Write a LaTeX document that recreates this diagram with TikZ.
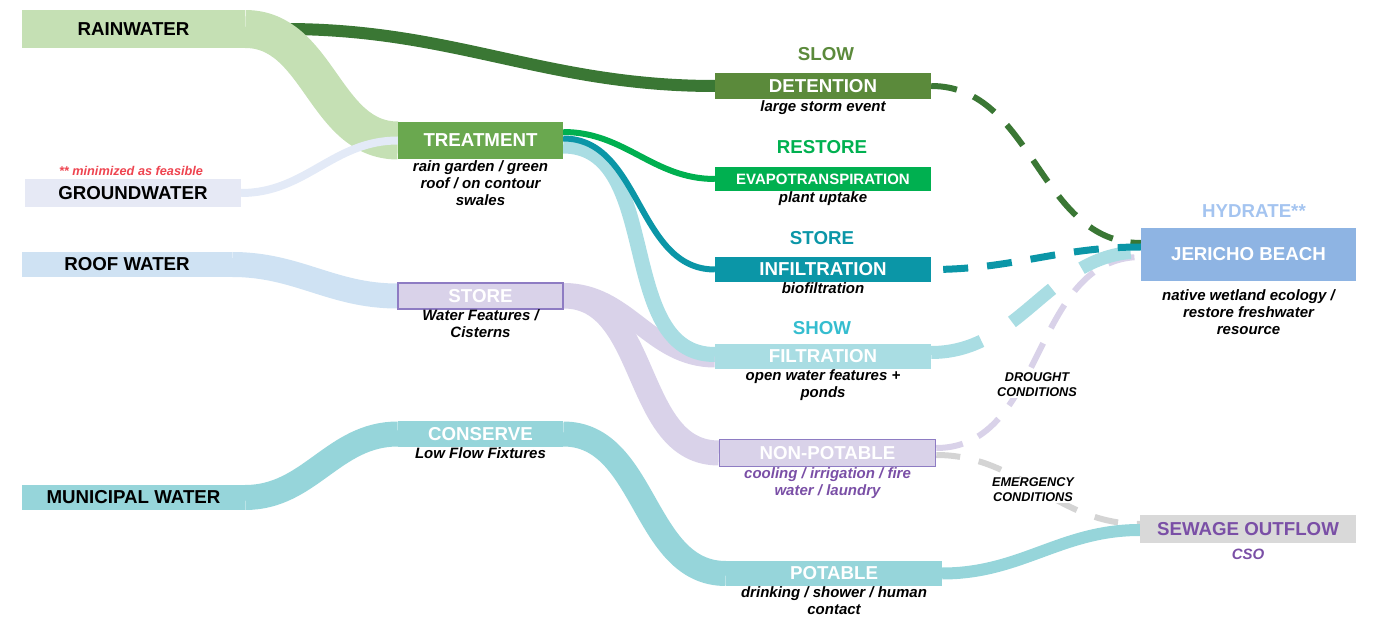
\documentclass[tikz,border=0pt]{standalone}
\usepackage{fontspec}
\setmainfont{Liberation Sans}
\usetikzlibrary{positioning}
\definecolor{rainband}{HTML}{C5E0B4}
\definecolor{darkgreen}{HTML}{3A7734}
\definecolor{groundbox}{HTML}{E6E9F5}
\definecolor{groundband}{HTML}{E3EAF7}
\definecolor{roofband}{HTML}{CFE2F3}
\definecolor{treatgreen}{HTML}{6AA84F}
\definecolor{detgreen}{HTML}{5B8A3B}
\definecolor{evapgreen}{HTML}{00B050}
\definecolor{infteal}{HTML}{0B96A7}
\definecolor{cyanband}{HTML}{A9DDE3}
\definecolor{showcyan}{HTML}{35BDCF}
\definecolor{lavender}{HTML}{D9D2E9}
\definecolor{purpleline}{HTML}{8E7CC3}
\definecolor{muniband}{HTML}{96D5DA}
\definecolor{beachblue}{HTML}{8EB4E3}
\definecolor{hydrate}{HTML}{A4C4F0}
\definecolor{sewgray}{HTML}{D9D9D9}
\definecolor{sewpurple}{HTML}{7A4FA6}
\definecolor{notered}{HTML}{EE4450}
\definecolor{graydash}{HTML}{D4D4D4}
\pgfdeclarelayer{bands}
\pgfsetlayers{bands,main}
\tikzset{
  flow/.style={out=0, in=180},
  box/.style={rectangle, inner sep=0pt, minimum width=216pt, minimum height=25pt, text=white, font=\fontsize{18.7}{20}\selectfont\bfseries},
  src/.style={rectangle, inner sep=0pt, minimum height=25pt, text=black, font=\fontsize{18.7}{20}\selectfont\bfseries},
  head/.style={inner sep=1pt, font=\fontsize{18.7}{20}\selectfont\bfseries},
  sub/.style={inner sep=1pt, align=center, font=\fontsize{15}{17}\selectfont\bfseries\itshape},
  cond/.style={fill=white, inner sep=1pt, align=center, font=\fontsize{12.7}{15}\selectfont\bfseries\itshape},
}
\begin{document}
\begin{tikzpicture}[x=1pt, y=-1pt]
\useasboundingbox (0,0) rectangle (1374,620);

% sources
\node[src, fill=rainband, minimum width=223pt, minimum height=38pt] (rain) at (133.5,29) {RAINWATER};
\node[src, fill=groundbox, minimum width=216pt, minimum height=28pt] (ground) at (133,193) {GROUNDWATER};
\node[inner sep=1pt, text=notered, font=\fontsize{12.7}{15}\selectfont\bfseries\itshape] (note) at (131,171) {** minimized as feasible};
\node[src, fill=roofband, minimum width=210pt] (roof) at (127,264.5) {ROOF WATER};
\node[src, fill=muniband, minimum width=223pt] (muni) at (133.5,497.5) {MUNICIPAL WATER};

% middle column
\node[box, fill=treatgreen, minimum width=165pt, minimum height=37pt] (treat) at (480.5,140.5) {TREATMENT};
\node[sub, below=0pt of treat] (treatsub) {rain garden / green\\roof / on contour\\swales};
\node[box, fill=lavender, draw=purpleline, line width=1.5pt, minimum width=165pt, minimum height=26pt] (store) at (480.5,296) {STORE};
\node[sub, below=-1pt of store] (storesub) {Water Features /\\Cisterns};
\node[box, fill=muniband, minimum width=165pt, minimum height=26pt] (conserve) at (480.5,434) {CONSERVE};
\node[sub, below=-1pt of conserve] (conssub) {Low Flow Fixtures};

% right column
\node[head, text=detgreen] (slow) at (826,54) {SLOW};
\node[box, fill=detgreen, minimum height=26pt] (det) at (823,86) {DETENTION};
\node[sub, below=0.5pt of det] (detsub) {large storm event};
\node[head, text=evapgreen] (restore) at (822,147) {RESTORE};
\node[box, fill=evapgreen, minimum height=24pt, font=\fontsize{15}{17}\selectfont\bfseries] (evap) at (823,179) {EVAPOTRANSPIRATION};
\node[sub, below=-1pt of evap] (evapsub) {plant uptake};
\node[head, text=infteal] (storehead) at (822,238) {STORE};
\node[box, fill=infteal] (infil) at (823,269.5) {INFILTRATION};
\node[sub, below=-1pt of infil] (infilsub) {biofiltration};
\node[head, text=showcyan] (show) at (822,328) {SHOW};
\node[box, fill=cyanband] (filt) at (823,356.5) {FILTRATION};
\node[sub, below=-1pt of filt] (filtsub) {open water features +\\ponds};
\node[box, fill=lavender, draw=purpleline, line width=1.5pt, minimum height=27pt] (nonpot) at (827.5,453) {NON-POTABLE};
\node[sub, text=sewpurple, below=-1pt of nonpot] (nonpotsub) {cooling / irrigation / fire\\water / laundry};
\node[box, fill=muniband] (pot) at (834,573.5) {POTABLE};
\node[sub, below=-0.5pt of pot] (potsub) {drinking / shower / human\\contact};

% outlets
\node[head, text=hydrate] (hydratehead) at (1254,211) {HYDRATE**};
\node[box, fill=beachblue, minimum width=215pt, minimum height=53pt] (beach) at (1248.5,254.5) {JERICHO BEACH};
\node[sub, below=7pt of beach] (beachsub) {native wetland ecology /\\restore freshwater\\resource};
\node[box, fill=sewgray, text=sewpurple, minimum height=28pt] (sewage) at (1248,529) {SEWAGE OUTFLOW};
\node[sub, text=sewpurple, below=5pt of sewage] (sewsub) {CSO};

\node[cond] (drought) at (1037,385) {DROUGHT\\CONDITIONS};
\node[cond] (emerg) at (1033,490) {EMERGENCY\\CONDITIONS};

\begin{pgfonlayer}{bands}
\draw[darkgreen, line width=12pt] ([xshift=40pt]rain.east) to[flow] (det.west);
\draw[rainband, line width=38pt] (rain.east) to[flow] (treat.west);
\draw[groundband, line width=8pt] (ground.east) to[flow] (treat.west);
\draw[roofband, line width=25pt] (roof.east) to[flow] (store.west);
\draw[lavender, line width=18pt] ([yshift=4pt]store.east) to[flow] ([yshift=-2pt]filt.west);
\draw[lavender, line width=25pt] (store.east) to[flow] (nonpot.west);
\draw[cyanband, line width=15pt] ([yshift=-5.5pt]treat.east) to[flow] ([yshift=2pt]filt.west);
\draw[infteal, line width=6pt] ([yshift=2pt]treat.east) to[flow] (infil.west);
\draw[evapgreen, line width=6pt] ([yshift=8.5pt]treat.east) to[flow] (evap.west);
\draw[muniband, line width=25pt] (muni.east) to[flow] (conserve.west);
\draw[muniband, line width=25pt] (conserve.east) to[flow] (pot.west);
% dashed overflows
\draw[graydash, line width=6pt, dash pattern=on 24pt off 19pt] ([yshift=-2pt]nonpot.east) to[flow] ([yshift=5pt]sewage.west);
\draw[muniband, line width=12pt] (pot.east) to[flow] ([yshift=-1pt]sewage.west);
\draw[lavender, line width=6pt, dash pattern=on 27pt off 17pt] ([yshift=5pt]nonpot.east) to[flow] ([yshift=-2.5pt]beach.west);
\draw[cyanband, line width=13pt, dash pattern=on 52pt off 36pt] ([yshift=4pt]filt.east) to[flow] ([yshift=2.5pt]beach.west);
\draw[darkgreen, line width=6pt, dash pattern=on 26pt off 18pt] (det.east) to[flow] ([yshift=11.5pt]beach.west);
\draw[infteal, line width=7pt, dash pattern=on 25pt off 19pt, dash phase=32pt] (infil.east) to[flow] ([yshift=7.5pt]beach.west);
\end{pgfonlayer}
\end{tikzpicture}
\end{document}
